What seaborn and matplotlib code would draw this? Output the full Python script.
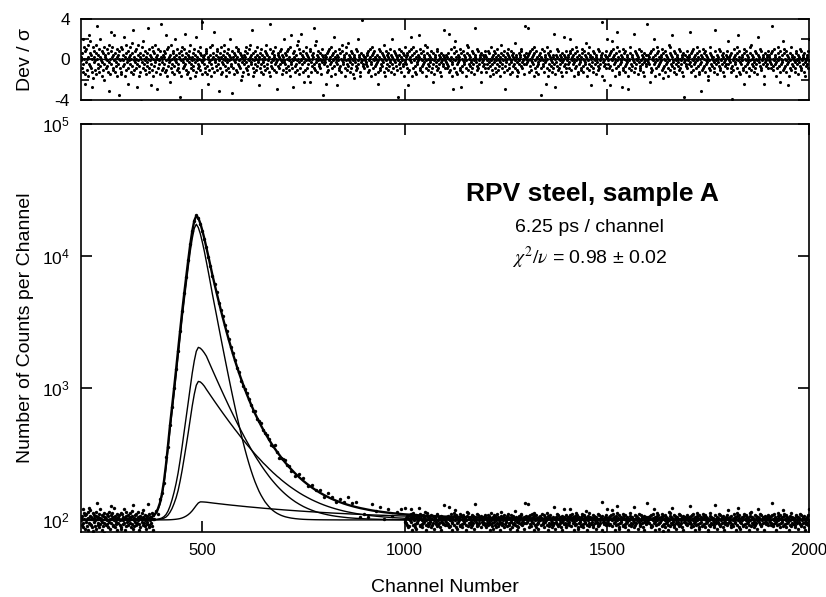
import numpy as np
import matplotlib
matplotlib.use('Agg')
import matplotlib.pyplot as plt
from matplotlib.ticker import NullLocator
import seaborn as sns
import pandas as pd

# Fit components (counts above background) at these channels
channels = [200, 250, 300, 340, 360, 370,
            380, 385, 390, 395, 400, 405, 410, 415, 420, 425, 430, 435, 440, 445,
            450, 455, 460, 465, 470, 475, 480, 485, 490, 495, 500, 505, 510, 515,
            520, 525, 530, 535, 540, 545, 550, 555, 560, 565, 570, 575, 580, 585,
            590, 595, 600, 605, 610, 615, 620, 625, 630, 635, 640, 645, 650, 655,
            660, 665, 670, 675, 680, 685, 690, 695, 700, 705, 710, 715, 720,
            730, 740, 750, 760, 770, 780, 790, 800, 810, 820, 830, 840, 850, 860,
            870, 880, 890, 900, 910, 920, 930, 940, 950, 960, 970, 980, 990, 1000,
            1050, 1100, 1200, 1300, 1400, 1600, 1800, 2000]

comp_short = [0, 0, 0, 0.2, 1.0, 2.8,
              7, 12, 19, 31, 52, 87, 147, 242, 381, 554,
              796, 1142, 1644, 2336, 3287, 4498, 6055, 8131, 10726, 13494,
              16089, 17300, 16300, 14600, 12600, 10700, 8900, 7400, 6100, 5000,
              4150, 3450, 2850, 2360, 1954, 1618, 1340, 1109, 918, 760,
              630, 521, 432, 357, 296, 245, 203, 168, 139, 115,
              95, 79, 65, 54, 45, 37, 31, 25.5, 21, 17.5,
              14.5, 12, 10, 8.2, 6.8, 5.6, 4.7, 3.9, 3.2,
              2.2, 1.5, 1.0, 0.7, 0.5, 0.33, 0.23, 0.16, 0.11, 0.07,
              0.05, 0, 0, 0, 0, 0, 0, 0, 0, 0,
              0, 0, 0, 0, 0, 0, 0, 0,
              0, 0, 0, 0, 0, 0, 0, 0]

comp_mid = [0, 0, 0, 0, 0.1, 0.3,
            0.5, 0.8, 1.4, 2.1, 3.5, 5.8, 9.7, 16.4, 27, 42,
            62, 89, 127, 183, 261, 367, 502, 676, 907, 1197,
            1505, 1795, 1930, 1900, 1830, 1740, 1640, 1505, 1380, 1266,
            1162, 1066, 978, 897, 823, 755, 693, 635, 583, 535,
            491, 450, 413, 379, 348, 319, 293, 269, 246, 226,
            207, 190, 175, 160, 147, 135, 124, 113.5, 104, 95.6,
            87.7, 80.4, 73.8, 67.7, 62.1, 57.0, 52.3, 48.0, 44.0,
            37.0, 31.2, 26.2, 22.1, 18.6, 15.6, 13.1, 11.1, 9.3, 7.8,
            6.6, 5.6, 4.7, 3.9, 3.3, 2.8, 2.35, 2.0, 1.66, 1.4,
            1.18, 0.99, 0.83, 0.70, 0.59, 0.50, 0.42, 0.35,
            0.15, 0.07, 0.01, 0, 0, 0, 0, 0]

comp_long = [0, 0, 0, 0, 0, 0.1,
             0.26, 0.41, 0.71, 1.1, 1.8, 3.1, 5.1, 8.7, 14.3, 22,
             33, 47, 67, 97, 138, 194, 265, 357, 479, 632,
             796, 949, 1020, 1010, 975, 930, 875, 826, 779, 735,
             693, 654, 617, 582, 549, 518, 489, 461, 435, 411,
             387, 366, 345, 325, 307, 290, 273, 258, 243, 229,
             216, 204, 193, 182, 171, 162, 153, 144, 136, 128,
             121, 114, 108, 101.5, 95.8, 90.4, 85.3, 80.4, 75.9,
             67.6, 60.1, 53.5, 47.7, 42.4, 37.8, 33.6, 29.9, 26.6, 23.7,
             21.1, 18.8, 16.7, 14.9, 13.3, 11.8, 10.5, 9.4, 8.3, 7.4,
             6.6, 5.9, 5.2, 4.7, 4.1, 3.7, 3.3, 2.9,
             1.6, 0.9, 0.28, 0.09, 0.03, 0, 0, 0]

comp_source = [0, 0, 0, 0, 0, 0,
               0, 0.01, 0.02, 0.03, 0.04, 0.07, 0.11, 0.19, 0.31, 0.52,
               0.81, 1.2, 1.7, 2.4, 3.5, 5.0, 7.0, 9.6, 13, 17.4,
               22.9, 28.9, 34.4, 37, 36.9, 36.6, 36.2, 35.6, 35.0, 34.4,
               33.8, 33.3, 32.7, 32.2, 31.7, 31.1, 30.6, 30.1, 29.6, 29.1,
               28.7, 28.2, 27.7, 27.3, 26.8, 26.4, 25.9, 25.5, 25.1, 24.7,
               24.3, 23.9, 23.5, 23.1, 22.7, 22.3, 22.0, 21.6, 21.3, 20.9,
               20.6, 20.2, 19.9, 19.6, 19.2, 18.9, 18.6, 18.3, 18.0,
               17.4, 16.8, 16.3, 15.7, 15.2, 14.7, 14.2, 13.7, 13.3, 12.8,
               12.4, 12.0, 11.6, 11.2, 10.8, 10.5, 10.1, 9.8, 9.5, 9.1,
               8.8, 8.5, 8.3, 8.0, 7.7, 7.5, 7.2, 7.0,
               5.9, 5.0, 3.6, 2.6, 1.8, 0.9, 0.5, 0.2]

background = 100.0

# Dev / sigma for every channel 200..2000, one letter per channel:
# 'A' = -4.8 ... 'Z' = -0.095, 'a' = +0.095 ... 'z' = +4.8 (steps of 0.19)
residual_code = (
    "ZbVdXkTgaNeSfYUaRhbmXjWdVcTaLgQbYeUZhSdraVXcfTkWbZaeRYdUgXPcbVaZfWTdhJYSaeoXbgUcVZmaTdWYbfRXcaeHZVgS"
    "TfaWcZlXbRdUhaYeNVbZcXgTaiWdSpZbUYeaVfXLhcZRWbdTaEYgVcjXaZUeSbWdYqaTfVcZXbMgUaeRWdZhYbTcKaVfXaZeSsbU"
    "aYcVeXbTdZmUfRaWgYbOZcVhXaTdeSbWkZYcaUfVXdTbGaZeRgcYaVWfbXnUdZaSTcbYeQhaVXZbUdWfaRcYTlbZeXVaWdgUcZSt"
    "YbZaXcVTdfeSWaNbYUgZcXRahVbdToZaYWcfUeXbJaZdVSbgYTcaXheWZbURdYaVfcTZbkXWaeIbVdZSYcgaUTbXfeZWdVaPcYbR"
    "TaZcXbeVYgdUaWSZfbhXYcpaRVdZTbeXaUcWgYZabMdVTfXacSZYbWeaUhdVcXZaTbsRfYWdaVeZcUbXgYTaKZdcWbVaeXfZYcSU"
    "bZkYXdcVTeaWfUZbgRXmYaVdLZebTaWcXhUZjaYSfdVnZaXcTbeYOaUZdgcVXbRaZeOfYTcaWbdVXqUhaYjcTZbeXWdVaSZcfYbH"
    "XZaYcbNWdTeUaZfXbYRgcVaZdWlbeSYaXcMZbUfVdWaTeZhXYcbaVRZgdUXaiWcZbYTeVadXSZcQbaYWfUeVZkXcbTRdYaZuWcXb"
    "VaZbYXcdWeTaUZfbXRYcgaVdZeWbSXaYcNTZbfUVeaXWdZcYbhTRaVZeXcbUdWaYfZcTkbXaVeZSdYcWbUaGZXfcVYeTbaZdWXRc"
    "gZYbXcVdMTeaUZbfYlRcVgaZdWTebSXYacZmbUfVdaWTZeXcYbhaRVZgdUXacWbZYTeVaOdXZScbaYWfUeVZaXcbTRdYaZWcXbpV"
    "ZaYcXbVdWnTaUZbfXYRKaVgdZjebTSXaYcZbUfVdLaWTZeXcYbaRVZhdgUXcaWbZYTeVadXZSqcbaYWfUeVZaXcbTOdYaZWcXbVe"
    "cTbXZaeVdYWRaZgUbXcSYaedVZTbfXaUcWZRbYdhXaVcZTeWbKZYdaUfcXbVSaZeYcTbWdXaiZVcbUYRaTZdXcbeWfVYaZcSXbrd"
    "aXbYcZqdTeWaZUfbYXcRdgVZaTeWbXSYacZdHbVfaXWZeTcYbNZaVgdRUXcbeWaZTYcVbnXSaLcYbWfUeaVZXcTbRdYaZcWlXbVe"
    "TZaXcbYVdkeaUZfbXcRYaVdgZWbeTScXaYZbUVfdaWTeZXcYbiRaVZdgUXcbWaMbYTVedaXZcSbaYfWUVeZaXcbtdRYaPZWcXbVe"
    "bkZaXcVMdWeaUjZfbXcRYaVdgZoWbTSeXaYcZLbUfVdaWTeZXcYbKRaVZdgUXcbWaZnYTVedaXZcSbaYfWUVeZaXcbTdRYaZWcXs"
    "ZcYaXbOdVeTaUZfbXkRcYaVgdZeWbSXaYcZbUfVdQaWTZeXcYbaRVZhdgUXcmWbZYTeVadXZScbaYWfUeaVZXcTbRdGYaZcWXbVe"
    "aZXcbYodWTeaUZfbXcRYaVdgZWbeTSXaYcJbUVfdaWTeZXcYbPRaVZdgUXcbWaZbYTVepaXZcSbaYfWUVeZaXcbTdRYaZWcXbVej"
    "XbZaYcVdTFWaUZbfXYcRaVdgZmebTSYXaZcbUVfdNaWTZeXcYbaRVZgdhUXcaWbZYTeVadXZSlcbaYWfUeVZaXcbNRdYaZWcXbVe"
    "cZbYaXdVreaWUZfbXcRYVadgZWbeOTXaYcZjUfVdaWTeZXcYbMRaVZdgUXcbWaZbYTVedaXZcSbaYfWUVeZaXcbTdRYaZWcXbVek"
    "ZaYbXcdVKeTaUZfbXRYcaVgdZeWlSTXaYcZbUfVdaWTZeXcYbOaRVZhdgUXcaWbZYTePdXZScbaYWfUeaVZXcTbRdYaZcWXbVeS"
)

letters = "ABCDEFGHIJKLMNOPQRSTUVWXYZabcdefghijklmnopqrstuvwxyz"
n_ch = min(len(residual_code), 1801)
dev = np.array([(letters.index(c) - 25.5) * 0.19 for c in residual_code[:n_ch]])
ch_all = np.arange(200, 200 + n_ch)

ch = np.array(channels)
comps = [np.array(c) for c in (comp_short, comp_mid, comp_long, comp_source)]
total = background + sum(comps)

# measured counts = fit + dev * sqrt(fit)
in_peak = (ch >= 380) & (ch <= 1000)
peak_ch = ch[in_peak]
peak_fit = total[in_peak]
peak_counts = peak_fit + dev[peak_ch - 200] * np.sqrt(peak_fit)
flat = (ch_all < 380) | (ch_all > 1000)
flat_counts = background + dev[flat] * np.sqrt(background)
data = pd.DataFrame({
    'channel': np.concatenate([ch_all[flat], peak_ch]),
    'counts': np.concatenate([flat_counts, peak_counts]),
})

sns.set_style('ticks')
plt.rcParams['font.family'] = ['Liberation Sans', 'DejaVu Sans']
plt.rcParams['mathtext.fontset'] = 'stix'
plt.rcParams['axes.unicode_minus'] = False
for key in ('text.color', 'axes.labelcolor', 'xtick.color', 'ytick.color', 'axes.edgecolor'):
    plt.rcParams[key] = 'k'

fig = plt.figure(figsize=(8.26, 5.97), dpi=100)
ax_res = fig.add_axes([0.0981, 0.8325, 0.8814, 0.1357])
ax = fig.add_axes([0.0981, 0.1089, 0.8814, 0.6834])

# residual panel
sns.scatterplot(x=ch_all, y=dev, ax=ax_res, color='k', s=5, linewidth=0)
ax_res.axhline(0, color='k', lw=1)
ax_res.set_xlim(200, 2000)
ax_res.set_ylim(-4, 4)
ax_res.set_yticks([-4, 0, 4])
ax_res.set_yticks([-2, 2], minor=True)
ax_res.set_xticks([500, 1000, 1500])
ax_res.set_xticklabels([])
ax_res.xaxis.set_minor_locator(NullLocator())
ax_res.set_ylabel('Dev / σ', fontsize=14)

# spectrum panel
ax.set_yscale('log')
sns.scatterplot(data=data, x='channel', y='counts', ax=ax, color='k', s=6, linewidth=0)
for c in comps:
    sns.lineplot(x=ch, y=background + c, ax=ax, color='k', lw=1.0, estimator=None)
sns.lineplot(x=ch, y=total, ax=ax, color='k', lw=1.7, estimator=None)
ax.set_xlim(200, 2000)
ax.set_ylim(81, 1e5)
ax.set_yticks([1e2, 1e3, 1e4, 1e5])
ax.yaxis.set_minor_locator(NullLocator())
ax.set_xticks([500, 1000, 1500, 2000])
ax.set_xlabel('Channel Number', fontsize=14)
ax.set_ylabel('Number of Counts per Channel', fontsize=14)

for a in (ax_res, ax):
    a.tick_params(which='major', direction='in', length=8, width=1.2,
                  top=True, right=True, labelsize=12.5, pad=8)
    a.tick_params(which='minor', direction='in', length=6, width=1.2,
                  top=True, right=True)
    for s in a.spines.values():
        s.set_linewidth(1.2)
    a.yaxis.set_label_coords(-0.064, 0.5)
ax.tick_params(axis='x', labelsize=12)

ax.xaxis.set_label_coords(0.5, -0.115)

ax.text(0.703, 0.828, 'RPV steel, sample A', transform=ax.transAxes,
        ha='center', va='center', fontsize=19, fontweight='bold')
ax.text(0.699, 0.746, '6.25 ps / channel', transform=ax.transAxes,
        ha='center', va='center', fontsize=14)
ax.text(0.699, 0.672, r'$\chi^{2}/\nu$ = 0.98 ± 0.02', transform=ax.transAxes,
        ha='center', va='center', fontsize=14)

fig.savefig('out.png', dpi=100)
